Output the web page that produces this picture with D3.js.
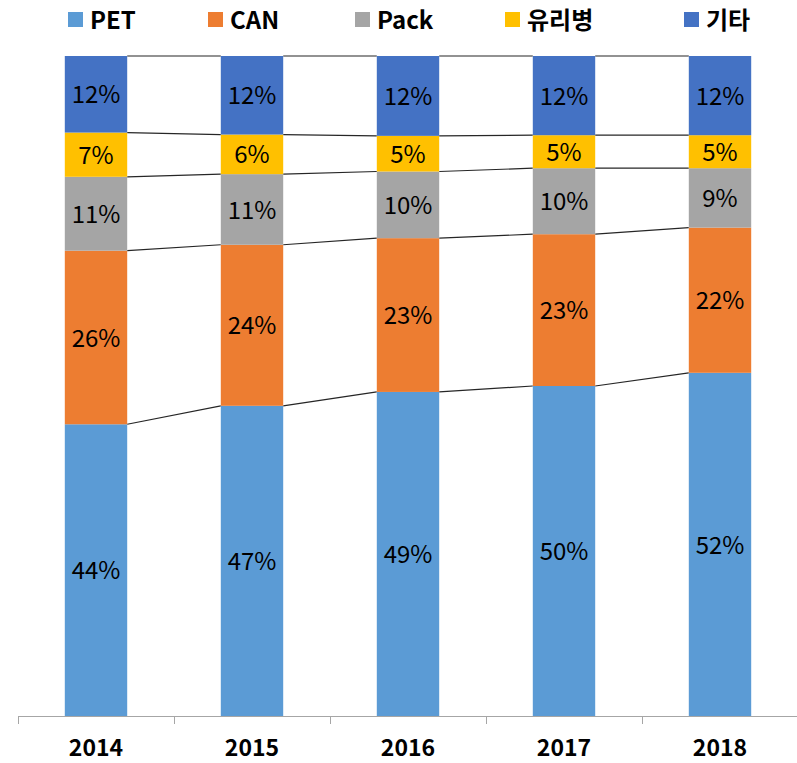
<!DOCTYPE html>
<html>
<head>
<meta charset="utf-8">
<script src="https://cdn.jsdelivr.net/npm/d3@7"></script>
<style>
  body { margin: 0; background: #fff; }
  svg { font-family: "Noto Sans CJK KR", "Noto Sans", sans-serif; }
</style>
</head>
<body>
<svg id="chart"></svg>
<script>
const years = ["2014", "2015", "2016", "2017", "2018"];
const seriesNames = ["PET", "CAN", "Pack", "유리병", "기타"];
const pet = [44.2, 47.0, 49.1, 50.0, 52.0];
const can = [26.3, 24.4, 23.3, 23.0, 22.0];
const pack = [11.2, 10.7, 10.1, 10.0, 9.0];
const glass = [6.7, 6.0, 5.4, 5.0, 5.0];
const other = [11.6, 11.9, 12.1, 12.0, 12.0];
const colors = ["#5b9bd5", "#ed7d31", "#a5a5a5", "#ffc000", "#4472c4"];

const width = 797;
const height = 763;
const margin = { top: 56, right: -1, bottom: 47, left: 18 };

const svg = d3.select("#chart").attr("width", width).attr("height", height);

const rows = years.map((y, i) => ({
  year: y,
  PET: pet[i], CAN: can[i], Pack: pack[i], "유리병": glass[i], "기타": other[i]
}));
const stacked = d3.stack().keys(seriesNames).offset(d3.stackOffsetExpand)(rows);

const x = d3.scaleBand().domain(years)
  .range([margin.left, width - margin.right]).paddingInner(0.6).paddingOuter(0.3);
const y = d3.scaleLinear().domain([0, 1]).range([height - margin.bottom, margin.top]);
const band = d3.scaleBand().domain(years).range([margin.left, width - margin.right]);

// series lines between bars
stacked.forEach(s => {
  for (let i = 0; i < years.length - 1; i++) {
    svg.append("line")
      .attr("x1", x(years[i]) + x.bandwidth())
      .attr("x2", x(years[i + 1]))
      .attr("y1", y(s[i][1]))
      .attr("y2", y(s[i + 1][1]))
      .attr("stroke", "#262626")
      .attr("stroke-width", 1.2);
  }
});

const groups = svg.selectAll(".series")
  .data(stacked)
  .enter()
  .append("g")
  .attr("fill", (d, i) => colors[i]);

groups.selectAll("rect")
  .data(d => d)
  .enter()
  .append("rect")
  .attr("x", d => x(d.data.year))
  .attr("y", d => y(d[1]))
  .attr("width", x.bandwidth())
  .attr("height", d => y(d[0]) - y(d[1]));

groups.selectAll("text")
  .data(d => d)
  .enter()
  .append("text")
  .attr("x", d => x(d.data.year) + x.bandwidth() / 2)
  .attr("y", d => (y(d[0]) + y(d[1])) / 2)
  .attr("dy", "0.38em")
  .attr("text-anchor", "middle")
  .attr("fill", "#000")
  .style("font-size", "24px")
  .text(d => Math.round((d[1] - d[0]) * 100) + "%");

// axis
const axisY = height - margin.bottom;
svg.append("line")
  .attr("x1", margin.left).attr("x2", width)
  .attr("y1", axisY + 0.5).attr("y2", axisY + 0.5)
  .attr("stroke", "#a6a6a6").attr("stroke-width", 1);

const ticks = years.map(d => band(d)).concat([band.range()[1]]);
svg.selectAll(".tick")
  .data(ticks)
  .enter()
  .append("line")
  .attr("x1", d => Math.round(d) + 0.5).attr("x2", d => Math.round(d) + 0.5)
  .attr("y1", axisY).attr("y2", axisY + 8)
  .attr("stroke", "#a6a6a6");

svg.selectAll(".year")
  .data(years)
  .enter()
  .append("text")
  .attr("x", d => band(d) + band.bandwidth() / 2)
  .attr("y", 756)
  .attr("text-anchor", "middle")
  .style("font-size", "23px")
  .style("font-weight", "bold")
  .text(d => d);

// legend
const legendX = [68, 208, 355, 505, 684];
const legend = svg.selectAll(".legend")
  .data(seriesNames)
  .enter()
  .append("g")
  .attr("transform", (d, i) => `translate(${legendX[i]}, 12)`);

legend.append("rect")
  .attr("width", 15).attr("height", 15)
  .attr("fill", (d, i) => colors[i]);

legend.append("text")
  .attr("x", 22)
  .attr("y", 16.5)
  .style("font-size", "24px")
  .style("font-weight", "bold")
  .text(d => d);
</script>
</body>
</html>
